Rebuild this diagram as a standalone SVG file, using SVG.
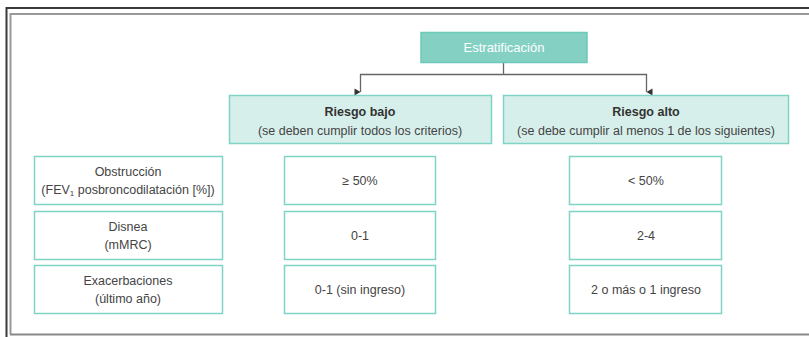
<svg xmlns="http://www.w3.org/2000/svg" width="809" height="337" viewBox="0 0 809 337">
<defs>
<marker id="arr" markerWidth="8" markerHeight="8" refX="4" refY="7" orient="auto" markerUnits="userSpaceOnUse">
<path d="M0.5,1 L7.5,1 L4,7 Z" fill="#333"/>
</marker>
<style>
text{font-family:"Liberation Sans","Open Sans",sans-serif;font-size:12.5px;fill:#444;text-anchor:middle}
.head{fill:#84d0c3;stroke:#6dc9b8;stroke-width:1.5}
.risk{fill:#d7efea;stroke:#7fd4c5;stroke-width:1.5}
.cell{fill:#fff;stroke:#7fd4c5;stroke-width:1.5}
.b{font-weight:bold;fill:#333}
.w{fill:#fff;font-size:13px}
.conn{fill:none;stroke:#666;stroke-width:1.3}
</style>
</defs>
<rect width="809" height="337" fill="#fff"/>
<g id="frame">
<path d="M6.5,337 L6.5,8 L809,8" fill="none" stroke="#3a3a3a" stroke-width="2"/>
<path d="M10.5,334 L10.5,14 L809,14" fill="none" stroke="#999" stroke-width="2"/>
<path d="M10,334.5 L809,334.5" fill="none" stroke="#888" stroke-width="2"/>
</g>
<g id="connectors">
<path class="conn" d="M503.5,63 L503.5,74.5"/>
<path class="conn" d="M360.5,92 L360.5,74.5 L646.5,74.5 L646.5,92" marker-start="url(#arr)" marker-end="url(#arr)"/>
</g>
<g id="estratificacion">
<rect class="head" x="421" y="32.5" width="166" height="30"/>
<text class="w" x="504" y="52">Estratificación</text>
</g>
<g id="riesgo-bajo">
<rect class="risk" x="229.5" y="95.5" width="262" height="48"/>
<text class="b" x="360" y="116">Riesgo bajo</text>
<text x="360" y="135">(se deben cumplir todos los criterios)</text>
</g>
<g id="riesgo-alto">
<rect class="risk" x="503.5" y="95.5" width="285" height="48"/>
<text class="b" x="646" y="116">Riesgo alto</text>
<text x="646" y="135">(se debe cumplir al menos 1 de los siguientes)</text>
</g>
<g id="obstruccion">
<rect class="cell" x="34.5" y="156.5" width="188" height="48"/>
<text x="128" y="176">Obstrucción</text>
<text x="128" y="194">(FEV<tspan font-size="8" dy="2">1</tspan><tspan dy="-2"> posbroncodilatación [%])</tspan></text>
</g>
<g id="disnea">
<rect class="cell" x="34.5" y="211.5" width="188" height="48"/>
<text x="128" y="231">Disnea</text>
<text x="128" y="249">(mMRC)</text>
</g>
<g id="exacerbaciones">
<rect class="cell" x="34.5" y="265.5" width="188" height="48"/>
<text x="128" y="285">Exacerbaciones</text>
<text x="128" y="303">(último año)</text>
</g>
<g id="bajo-obstruccion">
<rect class="cell" x="284.5" y="156.5" width="151" height="48"/>
<text x="360" y="185">≥ 50%</text>
</g>
<g id="bajo-disnea">
<rect class="cell" x="284.5" y="211.5" width="151" height="48"/>
<text x="360" y="240">0-1</text>
</g>
<g id="bajo-exacerbaciones">
<rect class="cell" x="284.5" y="265.5" width="151" height="48"/>
<text x="360" y="294">0-1 (sin ingreso)</text>
</g>
<g id="alto-obstruccion">
<rect class="cell" x="569.5" y="156.5" width="152" height="48"/>
<text x="646" y="185">&lt; 50%</text>
</g>
<g id="alto-disnea">
<rect class="cell" x="569.5" y="211.5" width="152" height="48"/>
<text x="646" y="240">2-4</text>
</g>
<g id="alto-exacerbaciones">
<rect class="cell" x="569.5" y="265.5" width="152" height="48"/>
<text x="646" y="294">2 o más o 1 ingreso</text>
</g>
</svg>
